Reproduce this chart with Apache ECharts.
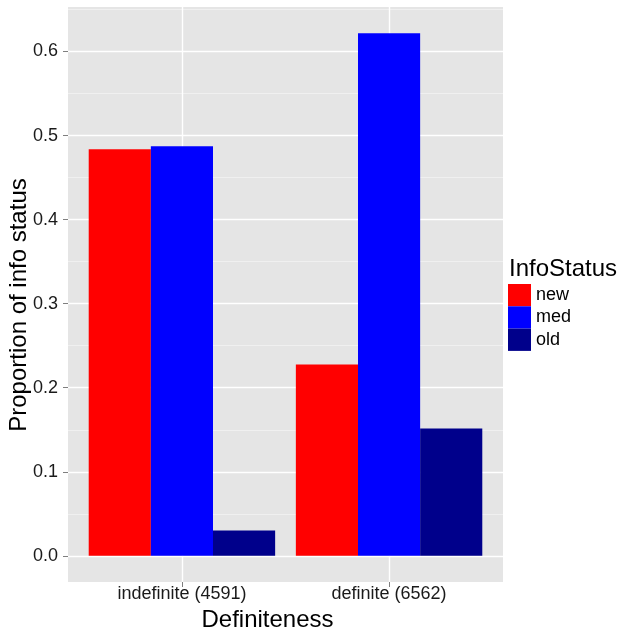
<!DOCTYPE html>
<html><head><meta charset="utf-8">
<script src="https://cdn.jsdelivr.net/npm/echarts@6/dist/echarts.min.js"></script>
<style>html,body{margin:0;padding:0;background:#fff}#c{width:627px;height:631px}</style>
</head><body><div id="c"></div>
<script>
const categories = ['indefinite (4591)', 'definite (6562)'];
const seriesNames = ['new', 'med', 'old'];
const newVals = [0.4837, 0.2277];
const medVals = [0.4873, 0.6218];
const oldVals = [0.0301, 0.1516];
const yMajorTicks = [0, 0.1, 0.2, 0.3, 0.4, 0.5, 0.6];
const yMinorTicks = [0.05, 0.15, 0.25, 0.35, 0.45, 0.55, 0.65];
const colors = ['#FF0000', '#0000FF', '#00008B'];
const FONT = 'Liberation Sans, Arial, sans-serif';

const yMin = -0.0311, yMax = 0.6529;
const xPos = categories.map((c, i) => i + 1);
const mk = vals => vals.map((v, i) => [xPos[i], v]);

const chart = echarts.init(document.getElementById('c'), null, {renderer: 'canvas'});
chart.setOption({
  animation: false,
  backgroundColor: '#fff',
  textStyle: {fontFamily: FONT},
  grid: {left: 68, top: 7, width: 435, height: 575, show: true, backgroundColor: '#E5E5E5', borderWidth: 0, containLabel: false, outerBoundsMode: 'none'},
  xAxis: {
    type: 'value', min: 0.45, max: 2.55,
    axisLine: {show: false, onZero: false},
    axisTick: {show: true, customValues: xPos, length: 5, lineStyle: {color: '#7F7F7F', width: 1}},
    axisLabel: {customValues: xPos, formatter: v => categories[Math.round(v) - 1] || '', color: '#1a1a1a', fontSize: 18, margin: 3, fontFamily: FONT},
    splitLine: {show: true, lineStyle: {color: '#FFFFFF', width: 1.4}}
  },
  yAxis: [
    {
      type: 'value', min: yMin, max: yMax, position: 'left',
      axisLine: {show: false, onZero: false}, axisTick: {show: false, customValues: yMinorTicks},
      axisLabel: {show: false, customValues: yMinorTicks},
      splitLine: {show: true, lineStyle: {color: '#F2F2F2', width: 0.8}}
    },
    {
      type: 'value', min: yMin, max: yMax, position: 'left', offset: 0,
      axisLine: {show: false, onZero: false},
      axisTick: {show: true, customValues: yMajorTicks, length: 5, lineStyle: {color: '#7F7F7F', width: 1}},
      axisLabel: {customValues: yMajorTicks, formatter: v => v.toFixed(1), color: '#1a1a1a', fontSize: 18, margin: 10, fontFamily: FONT},
      splitLine: {show: true, lineStyle: {color: '#FFFFFF', width: 1.4}}
    }
  ],
  legend: {
    orient: 'vertical', left: 508, top: 284, itemWidth: 23, itemHeight: 22.3, itemGap: 0,
    icon: 'rect', data: seriesNames, padding: 0,
    textStyle: {fontSize: 18, color: '#000', fontFamily: FONT}
  },
  graphic: [
    {type: 'text', x: 509, y: 269, style: {text: 'InfoStatus', font: '24px ' + FONT, fill: '#000', textVerticalAlign: 'middle'}},
    {type: 'text', x: 267.5, y: 620, style: {text: 'Definiteness', font: '24px ' + FONT, fill: '#000', textAlign: 'center', textVerticalAlign: 'middle'}},
    {type: 'text', x: 19, y: 305, rotation: Math.PI / 2, style: {text: 'Proportion of info status', font: '24px ' + FONT, fill: '#000', textAlign: 'center', textVerticalAlign: 'middle'}}
  ],
  series: [
    {name: 'new', type: 'bar', yAxisIndex: 1, data: mk(newVals), barWidth: '30%', barGap: '0%', itemStyle: {color: colors[0]}},
    {name: 'med', type: 'bar', yAxisIndex: 1, data: mk(medVals), barWidth: '30%', barGap: '0%', itemStyle: {color: colors[1]}},
    {name: 'old', type: 'bar', yAxisIndex: 1, data: mk(oldVals), barWidth: '30%', barGap: '0%', itemStyle: {color: colors[2]}}
  ]
});
</script></body></html>
